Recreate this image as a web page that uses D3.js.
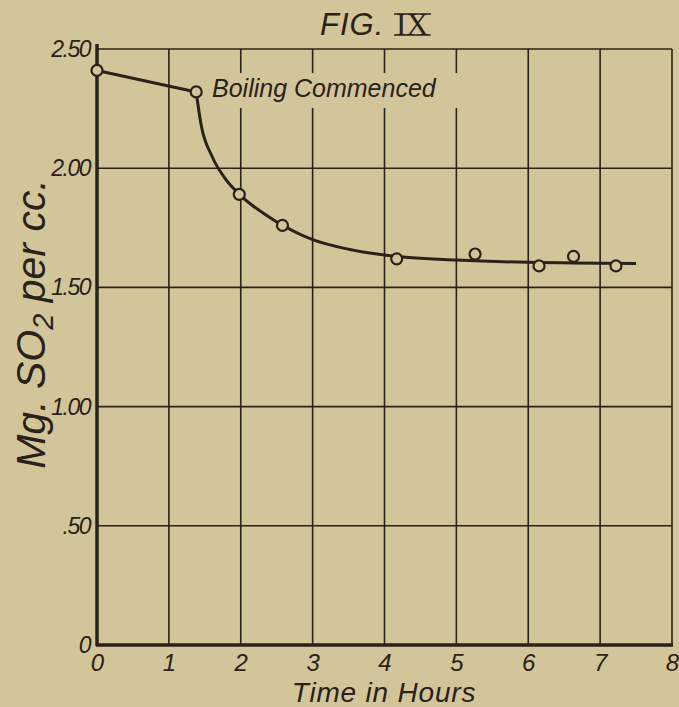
<!DOCTYPE html>
<html>
<head>
<meta charset="utf-8">
<script src="https://cdn.jsdelivr.net/npm/d3@7"></script>
<style>
  html, body { margin: 0; padding: 0; background: #d3c59a; }
  svg text { fill: #2a2118; }
</style>
</head>
<body>
<svg id="fig" width="679" height="707"></svg>
<script>
/* ---------- data read from the plate ---------------------- */
const hours    = [0, 1.38, 1.98, 2.58, 4.17, 5.26, 6.15, 6.63, 7.22];
const so2      = [2.41, 2.32, 1.89, 1.76, 1.62, 1.64, 1.59, 1.63, 1.59];
// hand-drawn smooth curve after boiling started
const fitHours = [1.38, 1.45, 1.6, 1.8, 2.0, 2.5, 3.0, 3.5, 4.17, 5.0, 6.0, 7.5];
const fitSO2   = [2.32, 2.18, 2.05, 1.95, 1.885, 1.775, 1.70, 1.66, 1.63, 1.615, 1.605, 1.60];
const xTicks   = [0, 1, 2, 3, 4, 5, 6, 7, 8];
const xLabels  = ['0', '1', '2', '3', '4', '5', '6', '7', '8'];
const yTicks   = [0, 0.5, 1, 1.5, 2, 2.5];
const yLabels  = ['0', '.50', '1.00', '1.50', '2.00', '2.50'];

/* ---------- svg & scales ---------------------------------- */
const INK = '#2a2118', BG = '#d3c59a';
const FONT = "'Liberation Sans', Arial, sans-serif";
const svg = d3.select('#fig');
const m = {l: 97, r: 672, t: 49, b: 645};

const x = d3.scaleLinear().domain([0, 8]).range([m.l, m.r]);
const y = d3.scaleLinear().domain([0, 2.5]).range([m.b, m.t]);

svg.append('rect').attr('width', 679).attr('height', 707).attr('fill', BG);

/* grid */
const grid = svg.append('g').attr('stroke', INK).attr('stroke-width', 1.6);
grid.selectAll('.vx').data(xTicks.slice(1)).enter().append('line')
    .attr('x1', d => x(d)).attr('x2', d => x(d))
    .attr('y1', m.t).attr('y2', m.b);
grid.selectAll('.hy').data(yTicks.slice(1)).enter().append('line')
    .attr('y1', d => y(d)).attr('y2', d => y(d))
    .attr('x1', m.l).attr('x2', m.r);

/* main axes (heavier) */
svg.append('line').attr('x1', m.l).attr('x2', m.l).attr('y1', m.t - 5).attr('y2', m.b + 1)
   .attr('stroke', INK).attr('stroke-width', 3.5);
svg.append('line').attr('x1', m.l - 1).attr('x2', m.r + 1).attr('y1', m.b).attr('y2', m.b)
   .attr('stroke', INK).attr('stroke-width', 3.5);

/* tick labels via axes */
const xa = svg.append('g').attr('transform', `translate(0,${m.b})`)
  .call(d3.axisBottom(x).tickValues(xTicks).tickSize(0)
        .tickFormat((d, i) => xLabels[i]));
const ya = svg.append('g').attr('transform', `translate(${m.l - 4},0)`)
  .call(d3.axisLeft(y).tickValues(yTicks).tickSize(0)
        .tickFormat((d, i) => yLabels[i]));
[xa, ya].forEach(a => a.select('.domain').remove());
xa.selectAll('text')
  .style('font', `italic 24px ${FONT}`).attr('fill', INK)
  .attr('y', 26).attr('dy', 0);
ya.selectAll('text')
  .style('font', `italic 23px ${FONT}`).style('letter-spacing', '-1.5px')
  .attr('fill', INK).attr('dy', '0.33em');

/* annotation with paper behind it */
const note = svg.append('g');
note.append('rect').attr('x', 208).attr('y', 73).attr('width', 256).attr('height', 35).attr('fill', BG);
note.append('text').attr('x', 212).attr('y', 97)
    .style('font', `italic 25px ${FONT}`)
    .text('Boiling Commenced');

/* straight part before boiling */
svg.append('path')
  .datum(hours.slice(0, 2).map((h, i) => [h, so2[i]]))
  .attr('d', d3.line().x(d => x(d[0])).y(d => y(d[1])))
  .attr('fill', 'none').attr('stroke', INK).attr('stroke-width', 3);

/* smooth curve after boiling */
svg.append('path')
  .datum(fitHours.map((h, i) => [h, fitSO2[i]]))
  .attr('d', d3.line().curve(d3.curveMonotoneX).x(d => x(d[0])).y(d => y(d[1])))
  .attr('fill', 'none').attr('stroke', INK).attr('stroke-width', 3);

/* observation circles */
svg.selectAll('.pt').data(hours.map((h, i) => [h, so2[i]])).enter().append('circle')
   .attr('cx', d => x(d[0])).attr('cy', d => y(d[1])).attr('r', 5.5)
   .attr('fill', BG).attr('stroke', INK).attr('stroke-width', 2.2);

/* titles */
svg.append('text').attr('x', 384).attr('y', 702).attr('text-anchor', 'middle')
   .style('font', `italic 28px ${FONT}`).style('letter-spacing', '0.8px')
   .text('Time in Hours');

const yl = svg.append('text')
   .attr('transform', 'translate(45,324) rotate(-90)')
   .attr('text-anchor', 'middle')
   .style('font', `italic 41px ${FONT}`);
yl.append('tspan').text('Mg. SO');
yl.append('tspan').attr('dy', 8).style('font-size', '29px').text('2');
yl.append('tspan').attr('dy', -8).text(' per cc.');

svg.append('text').attr('x', 320).attr('y', 35)
   .style('font', `italic 31px ${FONT}`).style('letter-spacing', '1px')
   .text('FIG.');
// roman numeral with serif bars top and bottom
const ix = svg.append('text').attr('x', 396).attr('y', 35)
   .style('font', "31px 'Liberation Serif', serif").text('IX');
const w = ix.node().getComputedTextLength();
[14, 35].forEach(yy => svg.append('line')
   .attr('x1', 394).attr('x2', 396 + w + 2).attr('y1', yy).attr('y2', yy)
   .attr('stroke', INK).attr('stroke-width', 1.6));
</script>
</body>
</html>
